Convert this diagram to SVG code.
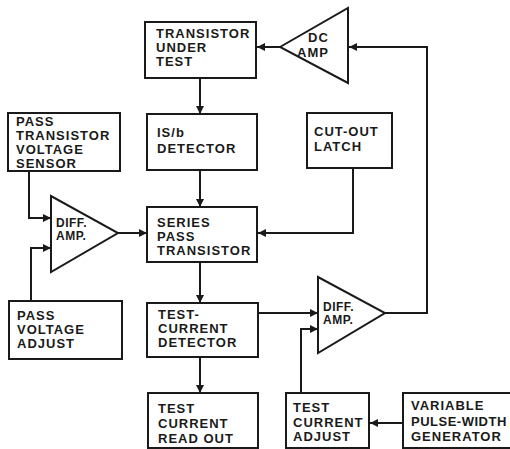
<svg xmlns="http://www.w3.org/2000/svg" width="510" height="449" viewBox="0 0 510 449">
<defs>
<marker id="ah" markerUnits="userSpaceOnUse" markerWidth="9" markerHeight="8" refX="8" refY="4" orient="auto">
<path d="M0,0 L8,4 L0,8 Z" fill="#1a1a1a"/>
</marker>
<style>
.box{fill:#fff;stroke:#1a1a1a;stroke-width:2}
.t{font-family:"Liberation Sans",Arial,sans-serif;font-weight:bold;font-size:13px;letter-spacing:1px;fill:#1a1a1a}
.s{font-size:12px;letter-spacing:0.5px}
.c{fill:none;stroke:#1a1a1a;stroke-width:2;marker-end:url(#ah)}
</style>
</defs>
<rect width="510" height="449" fill="#fff"/>
<g id="connectors">
<path class="c" d="M280,47 H257"/>
<path class="c" d="M385,313 H427 V47 H349"/>
<path class="c" d="M200,78 V114"/>
<path class="c" d="M200,170 V207"/>
<path class="c" d="M29,171 V218 H51"/>
<path class="c" d="M31,301 V248 H51"/>
<path class="c" d="M118,233 H147"/>
<path class="c" d="M353,168 V233 H258"/>
<path class="c" d="M200,262 V303"/>
<path class="c" d="M258,313 H318"/>
<path class="c" d="M301,393 V329 H318"/>
<path class="c" d="M200,357 V393"/>
<path class="c" d="M403,423 H370"/>
</g>
<g id="transistor-under-test">
<rect class="box" x="145" y="22" width="111" height="56"/>
<text class="t" x="156" y="38">TRANSISTOR</text>
<text class="t" x="156" y="52">UNDER</text>
<text class="t" x="156" y="66">TEST</text>
</g>
<g id="dc-amp">
<polygon class="box" points="280,47 348,8 348,83"/>
<text class="t" x="308" y="42">DC</text>
<text class="t" x="297" y="57">AMP</text>
</g>
<g id="pass-transistor-voltage-sensor">
<rect class="box" x="8" y="113" width="112" height="58"/>
<text class="t" x="16" y="126">PASS</text>
<text class="t" x="16" y="140">TRANSISTOR</text>
<text class="t" x="16" y="154">VOLTAGE</text>
<text class="t" x="16" y="168">SENSOR</text>
</g>
<g id="isb-detector">
<rect class="box" x="147" y="114" width="110" height="56"/>
<text class="t" x="157" y="137">IS/b</text>
<text class="t" x="157" y="153">DETECTOR</text>
</g>
<g id="cut-out-latch">
<rect class="box" x="307" y="113" width="85" height="55"/>
<text class="t" x="314" y="136">CUT-OUT</text>
<text class="t" x="314" y="151">LATCH</text>
</g>
<g id="series-pass-transistor">
<rect class="box" x="147" y="207" width="110" height="55"/>
<text class="t" x="157" y="227">SERIES</text>
<text class="t" x="157" y="241">PASS</text>
<text class="t" x="157" y="255">TRANSISTOR</text>
</g>
<g id="diff-amp-left">
<polygon class="box" points="51,196 51,272 118,233"/>
<text class="t s" x="56" y="227">DIFF.</text>
<text class="t s" x="56" y="240">AMP.</text>
</g>
<g id="pass-voltage-adjust">
<rect class="box" x="9" y="301" width="113" height="58"/>
<text class="t" x="17" y="320">PASS</text>
<text class="t" x="17" y="334">VOLTAGE</text>
<text class="t" x="17" y="348">ADJUST</text>
</g>
<g id="test-current-detector">
<rect class="box" x="147" y="303" width="111" height="54"/>
<text class="t" x="158" y="319">TEST-</text>
<text class="t" x="158" y="333">CURRENT</text>
<text class="t" x="158" y="347">DETECTOR</text>
</g>
<g id="diff-amp-right">
<polygon class="box" points="318,277 318,353 385,313"/>
<text class="t s" x="323" y="311">DIFF.</text>
<text class="t s" x="323" y="324">AMP.</text>
</g>
<g id="test-current-read-out">
<rect class="box" x="148" y="393" width="110" height="55"/>
<text class="t" x="158" y="413">TEST</text>
<text class="t" x="158" y="428">CURRENT</text>
<text class="t" x="158" y="443">READ OUT</text>
</g>
<g id="test-current-adjust">
<rect class="box" x="286" y="393" width="83" height="55"/>
<text class="t" x="293" y="412">TEST</text>
<text class="t" x="293" y="427">CURRENT</text>
<text class="t" x="293" y="441">ADJUST</text>
</g>
<g id="variable-pulse-width-generator">
<rect class="box" x="403" y="393" width="110" height="55"/>
<text class="t" x="411" y="410">VARIABLE</text>
<text class="t" x="411" y="426" style="letter-spacing:0.5px">PULSE-WIDTH</text>
<text class="t" x="411" y="441">GENERATOR</text>
</g>
</svg>
